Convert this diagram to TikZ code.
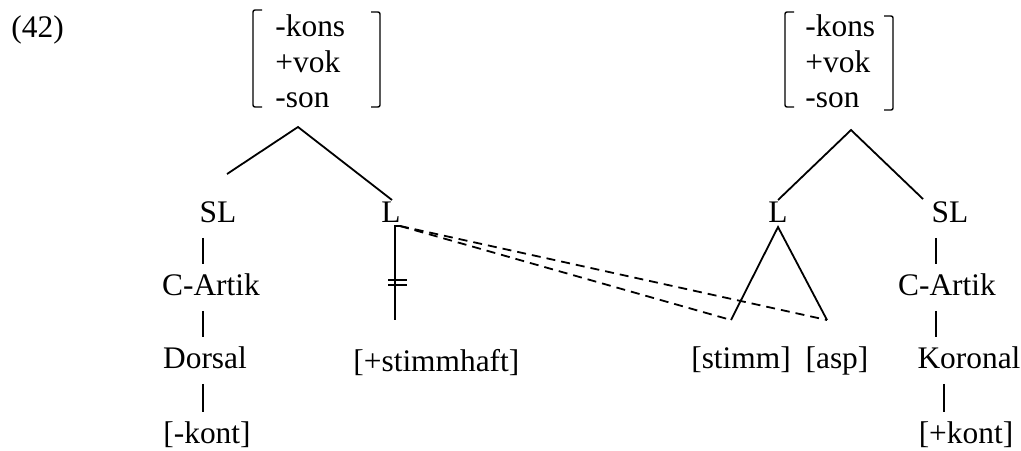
\documentclass[tikz,border=0pt]{standalone}
\usepackage{fontspec}
\setmainfont{Liberation Serif}
\tikzset{fg/.style={font=\fontsize{15.7}{18}\selectfont,inner xsep=0pt,inner ysep=3pt,
                    text height=12.5pt,text depth=4.7pt},
         fgl/.style={fg,anchor=base west},
         fgc/.style={fg,anchor=base},
         brk/.style={line width=0.7pt,rounded corners=1pt},
         br/.style={line width=0.9pt},
         lnk/.style={line width=0.6pt},
         dsh/.style={line width=0.9pt,dash pattern=on 4.5pt off 3pt}}

\begin{document}
\begin{tikzpicture}[x=0.5pt,y=-0.5pt]
  \useasboundingbox (0,0) rectangle (1021,450);
  \node[fgl] (ex) at (11,37) {(42)};
  % feature matrices
  \foreach \t [count=\i] in {-kons,+vok,-son} {
    \node[fgl] (ma\i) at (275,{1+35.5*\i}) {\t};
    \node[fgl] (mb\i) at (805,{1+35.5*\i}) {\t};
  }
  \draw[brk] (262,10) -- (253,10) -- (253,107) -- (262,107);
  \draw[brk] (371,12) -- (380,12) -- (380,107) -- (371,107);
  \draw[brk] (794,12) -- (785,12) -- (785,107) -- (794,107);
  \draw[brk] (884,16) -- (893,16) -- (893,110) -- (884,110);
  % left tree
  \node[fgc] (sla) at (218,222) {SL};
  \node[fgc] (la) at (391,222) {L};
  \node[fgc] (caa) at (211,295) {C-Artik};
  \node[fgc] (dor) at (205,368) {Dorsal};
  \node[fgc] (kta) at (207,443) {[-kont]};
  \node[fgl] (sth) at (353,371) {[+stimmhaft]};
  \coordinate (ta) at (298,127); \coordinate (ta1) at (227,174); \coordinate (ta2) at (392,200);
  \draw[br] (ta1) -- (ta) -- (ta2);
  \coordinate (cla) at (203,0);
  \draw[lnk] (sla.south -| cla) -- (caa.north -| cla);
  \draw[lnk] (caa.south -| cla) -- (dor.north -| cla);
  \draw[lnk] (dor.south -| cla) -- (kta.north -| cla);
  % delinked voicing
  \coordinate (lt) at (400,226); \coordinate (lv) at (395,226); \coordinate (lu) at (395,320);
  \draw[br] (lt) -- (lv) -- (lu);
  \draw[lnk] (388,280) -- (407,280) (388,285) -- (407,285);
  % right tree
  \node[fgc] (lb) at (778,222) {L};
  \node[fgc] (slb) at (950,222) {SL};
  \node[fgc] (cab) at (947,295) {C-Artik};
  \node[fgc] (kor) at (969,368) {Koronal};
  \node[fgc] (ktb) at (966,443) {[+kont]};
  \node[fgc] (stm) at (741,368) {[stimm]};
  \node[fgc] (asp) at (837,368) {[asp]};
  \coordinate (tb) at (851,130); \coordinate (tb1) at (778,200); \coordinate (tb2) at (923,199);
  \draw[br] (tb1) -- (tb) -- (tb2);
  \coordinate (tp) at (778,227); \coordinate (ts) at (731,320); \coordinate (tq) at (827,320);
  \draw[br] (ts) -- (tp) -- (tq);
  \coordinate (clb) at (936,0); \coordinate (clc) at (944,0);
  \draw[lnk] (slb.south -| clb) -- (cab.north -| clb);
  \draw[lnk] (cab.south -| clb) -- (kor.north -| clb);
  \draw[lnk] (kor.south -| clc) -- (ktb.north -| clc);
  % spreading
  \draw[dsh] (lt) -- (ts);
  \draw[dsh] (lt) -- (tq);
\end{tikzpicture}
\end{document}
